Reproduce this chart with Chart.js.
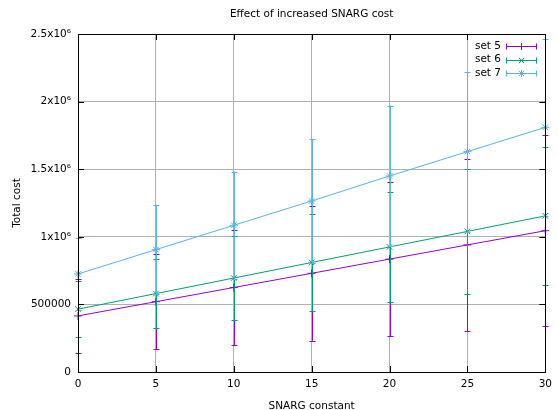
<!DOCTYPE html>
<html>
<head>
<meta charset="utf-8">
<script src="https://cdn.jsdelivr.net/npm/chart.js@4"></script>
<style>
  body{margin:0;background:#fff;}
  canvas{display:block;}
</style>
</head>
<body>
<canvas id="c" width="558" height="410"></canvas>
<script>
// ---------------- Data ----------------
const xValues = [0,5,10,15,20,25,30];
const set5 = [415000,520000,625000,730000,835000,940000,1045000];
const set5Err = [276000,350000,426000,499000,572000,638000,706000];
const set6 = [465000,580000,695000,810000,925000,1040000,1155000];
const set6Err = [206000,256000,309000,358000,409000,460000,508000];
const set7 = [725000,905000,1085000,1265000,1450000,1630000,1810000];
const set7Err = [264000,329000,397000,458000,521000,592000,655000];
const seriesNames = ["set 5","set 6","set 7"];
const seriesColors = ["#9400d3","#009e73","#56b4e9"];
const seriesPoints = ["cross","crossRot","star"];
const yTickLabels = {0:"0",500000:"500000",1000000:"1x10⁶",1500000:"1.5x10⁶",2000000:"2x10⁶",2500000:"2.5x10⁶"};

const FONT = "DejaVu Sans, sans-serif";
const values = [set5,set6,set7];
const errs = [set5Err,set6Err,set7Err];

// ---------------- Plugins ----------------
// error bars drawn just before each dataset's line so stacking matches gnuplot
const errorBars = {
  id:"errorBars",
  beforeDatasetDraw(chart,args){
    const i=args.index, ctx=chart.ctx, x=chart.scales.x, y=chart.scales.y;
    ctx.save();
    ctx.strokeStyle=seriesColors[i]; ctx.lineWidth=1;
    xValues.forEach((xv,k)=>{
      const px=Math.round(x.getPixelForValue(xv))+0.5;
      const lo=y.getPixelForValue(values[i][k]-errs[i][k]);
      const hi=y.getPixelForValue(values[i][k]+errs[i][k]);
      ctx.beginPath();
      ctx.moveTo(px,lo); ctx.lineTo(px,hi);
      ctx.moveTo(px-3,Math.round(lo)+0.5); ctx.lineTo(px+3,Math.round(lo)+0.5);
      ctx.moveTo(px-3,Math.round(hi)+0.5); ctx.lineTo(px+3,Math.round(hi)+0.5);
      ctx.stroke();
    });
    ctx.restore();
  }
};

const frame = {
  id:"frame",
  afterDraw(chart){
    const ctx=chart.ctx, a=chart.chartArea, x=chart.scales.x, y=chart.scales.y;
    ctx.save();
    ctx.strokeStyle="#000"; ctx.lineWidth=1;
    ctx.strokeRect(a.left+0.5,a.top+0.5,Math.round(a.right-a.left),a.bottom-a.top);
    ctx.beginPath();
    xValues.forEach(v=>{
      const px=Math.round(x.getPixelForValue(v))+0.5;
      ctx.moveTo(px,a.bottom); ctx.lineTo(px,a.bottom-6);
      ctx.moveTo(px,a.top); ctx.lineTo(px,a.top+6);
    });
    Object.keys(yTickLabels).forEach(v=>{
      const py=Math.round(y.getPixelForValue(+v))+0.5;
      ctx.moveTo(a.left,py); ctx.lineTo(a.left+6,py);
      ctx.moveTo(a.right,py); ctx.lineTo(a.right-6,py);
    });
    ctx.stroke();

    // titles
    ctx.fillStyle="#000";
    ctx.font="10.5px "+FONT;
    ctx.textAlign="center"; ctx.textBaseline="middle";
    const cx=(a.left+a.right)/2;
    ctx.fillText("Effect of increased SNARG cost",cx,14);
    ctx.fillText("SNARG constant",cx,406);
    ctx.save();
    ctx.translate(17,(a.top+a.bottom)/2);
    ctx.rotate(-Math.PI/2);
    ctx.fillText("Total cost",0,0);
    ctx.restore();

    // legend
    seriesNames.forEach((name,i)=>{
      const ly=46+i*13.5;
      ctx.fillStyle="#000"; ctx.textAlign="right";
      ctx.fillText(name,501,ly);
      ctx.strokeStyle=seriesColors[i];
      const yy=Math.round(ly)+0.5;
      ctx.beginPath();
      ctx.moveTo(506,yy); ctx.lineTo(537,yy);
      ctx.moveTo(506.5,yy-3); ctx.lineTo(506.5,yy+3);
      ctx.moveTo(536.5,yy-3); ctx.lineTo(536.5,yy+3);
      ctx.stroke();
      const r=3.5;
      ctx.beginPath();
      if(i!==1){ ctx.moveTo(521.5-r,yy); ctx.lineTo(521.5+r,yy); ctx.moveTo(521.5,yy-r); ctx.lineTo(521.5,yy+r); }
      if(i!==0){ ctx.moveTo(521.5-r*0.75,yy-r*0.75); ctx.lineTo(521.5+r*0.75,yy+r*0.75); ctx.moveTo(521.5-r*0.75,yy+r*0.75); ctx.lineTo(521.5+r*0.75,yy-r*0.75); }
      ctx.stroke();
    });
    ctx.restore();
  }
};

// ---------------- Chart ----------------
const datasets = seriesNames.map((name,i)=>({
  label:name,
  data:xValues.map((xv,k)=>({x:xv,y:values[i][k]})),
  borderColor:seriesColors[i],
  backgroundColor:seriesColors[i],
  borderWidth:1,
  pointStyle:seriesPoints[i],
  pointRadius:4,
  pointBorderWidth:1,
  pointHoverRadius:4,
  fill:false,
  tension:0,
  clip:false,
  order:2-i
}));

new Chart(document.getElementById("c"),{
  type:"line",
  data:{datasets},
  options:{
    responsive:false,
    animation:false,
    events:[],
    layout:{padding:{top:34,right:9,left:0,bottom:0}},
    plugins:{legend:{display:false},title:{display:false},tooltip:{enabled:false}},
    scales:{
      x:{
        type:"linear",min:0,max:30,
        afterFit(s){s.height=38;},
        border:{display:false},
        grid:{color:"#b0b0b0",lineWidth:1,drawTicks:false},
        ticks:{stepSize:5,padding:6,color:"#000",font:{family:FONT,size:10.5},maxRotation:0}
      },
      y:{
        type:"linear",min:0,max:2500000,
        afterFit(s){s.width=78;},
        border:{display:false},
        grid:{color:"#b0b0b0",lineWidth:1,drawTicks:false},
        ticks:{stepSize:500000,padding:7,color:"#000",font:{family:FONT,size:10.5},
          callback:v=>yTickLabels[v]}
      }
    }
  },
  plugins:[errorBars,frame]
});
</script>
</body>
</html>
